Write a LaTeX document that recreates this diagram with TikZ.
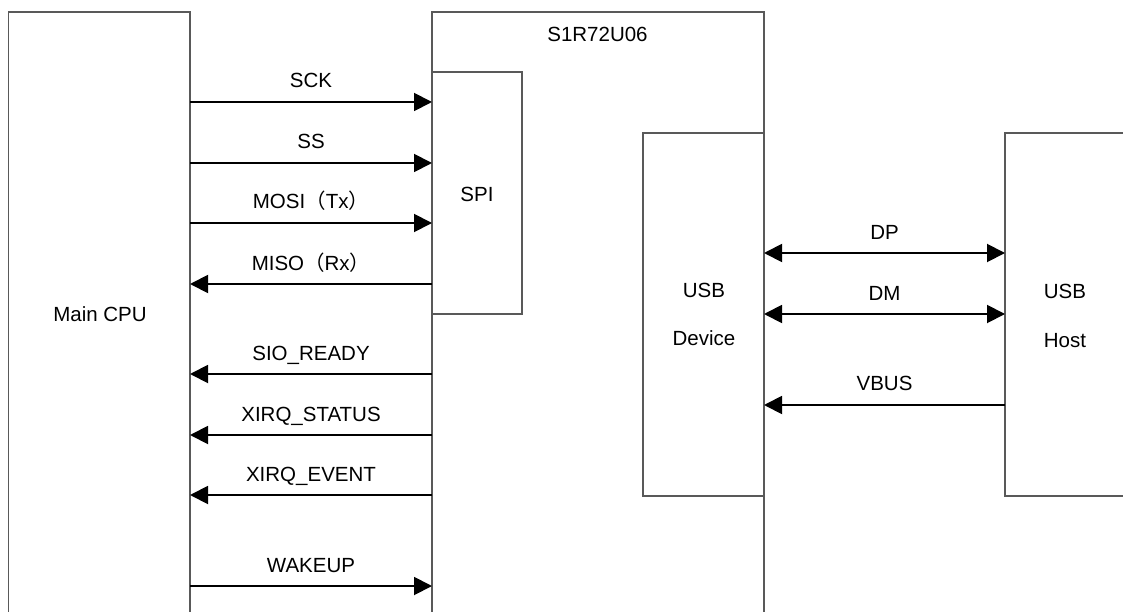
\documentclass[tikz,border=0pt]{standalone}
\usepackage{fontspec}
\setmainfont{Liberation Sans}
\newfontfamily\cjk{Noto Sans CJK JP}
\usetikzlibrary{arrows.meta}
\begin{document}
\begin{tikzpicture}[x=1pt,y=-1pt,
  boxline/.style={draw=black!65,line width=1.2pt},
  sig/.style={line width=1.9pt,black},
  tip/.style={-{Triangle[length=18pt,width=18pt]}},
  tiptwo/.style={{Triangle[length=18pt,width=18pt]}-{Triangle[length=18pt,width=18pt]}},
  lbl/.style={anchor=base,inner sep=0pt,font=\fontsize{20.5}{24}\selectfont},
  slbl/.style={midway,anchor=base,yshift=#1,inner sep=0pt,font=\fontsize{20.5}{24}\selectfont},
  every node/.style={font=\fontsize{20.5}{24}\selectfont}]
\useasboundingbox (0,0) rectangle (1123,612);
% boxes (open at the image edges)
\draw[boxline] (8.5,620) -- (8.5,12) -- (190,12) -- (190,620);
\draw[boxline] (432,620) -- (432,12) -- (764,12) -- (764,620);
\draw[boxline] (432,72) rectangle (522,314);
\draw[boxline] (643,133) rectangle (764,496);
\draw[boxline] (1130,133) -- (1005,133) -- (1005,496) -- (1130,496);
% box texts
\node[lbl] (cpu) at (100,321.5) {Main CPU};
\node[lbl] (chip) at (597.5,41.5) {S1R72U06};
\node[lbl] (spi) at (477,202) {SPI};
\node[lbl] (usbd1) at (704,297) {USB};
\node[lbl] (usbd2) at (704,345) {Device};
\node[lbl] (usbh1) at (1065,298) {USB};
\node[lbl] (usbh2) at (1065,347) {Host};
% coordinates for connector ends
\foreach \n/\y in {sck/102,ss/163,mosi/223,miso/284,rdy/374,st/435,ev/495,wk/586}{
  \coordinate (L\n) at (190,\y);
  \coordinate (R\n) at (432,\y);
}
\foreach \n/\y in {dp/253,dm/314,vb/405}{
  \coordinate (D\n) at (764,\y);
  \coordinate (H\n) at (1005,\y);
}
% left signals
\draw[sig,tip] (Lsck) -- (Rsck) node[slbl=14pt] (tsck) {SCK};
\draw[sig,tip] (Lss) -- (Rss) node[slbl=14pt] (tss) {SS};
\draw[sig,tip] (Lmosi) -- (Rmosi) node[slbl=14pt] (tmosi) {MOSI{\cjk （}Tx{\cjk ）}};
\draw[sig,tip] (Rmiso) -- (Lmiso) node[slbl=14pt] (tmiso) {MISO{\cjk （}Rx{\cjk ）}};
\draw[sig,tip] (Rrdy) -- (Lrdy) node[slbl=14pt] (trdy) {SIO\_READY};
\draw[sig,tip] (Rst) -- (Lst) node[slbl=14pt] (tst) {XIRQ\_STATUS};
\draw[sig,tip] (Rev) -- (Lev) node[slbl=14pt] (tev) {XIRQ\_EVENT};
\draw[sig,tip] (Lwk) -- (Rwk) node[slbl=14pt] (twk) {WAKEUP};
% right signals
\draw[sig,tiptwo] (Ddp) -- (Hdp) node[slbl=13pt] (tdp) {DP};
\draw[sig,tiptwo] (Ddm) -- (Hdm) node[slbl=14pt] (tdm) {DM};
\draw[sig,tip] (Hvb) -- (Dvb) node[slbl=15pt] (tvb) {VBUS};
\end{tikzpicture}
\end{document}
